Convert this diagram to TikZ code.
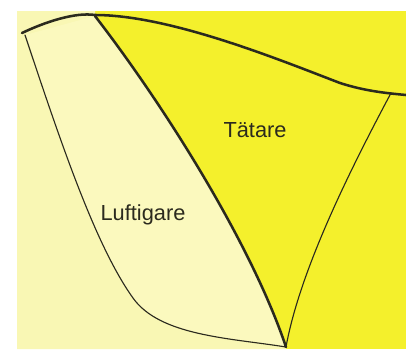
\documentclass[tikz,border=0pt]{standalone}
\usepackage{fontspec}
\setmainfont{Liberation Sans}
\definecolor{pale}{HTML}{F9F7B4}
\definecolor{paler}{HTML}{FBF9BE}
\definecolor{dense}{HTML}{F4F02C}
\definecolor{ink}{HTML}{2B2A1E}
\begin{document}
\begin{tikzpicture}[x=0.25mm, y=-0.25mm, every node/.style={font=\fontsize{15.5}{18}\selectfont, text=ink, anchor=base},
  thickline/.style={ink, line width=1.8pt, line cap=round, line join=round},
  thinline/.style={ink, line width=0.8pt, line cap=round}]
\useasboundingbox[fill=white] (0,0) rectangle (406,349);
% Zones
\fill[dense] (17,11) rectangle (406,349);
\fill[pale] (17,11) -- (95,11) -- (95,16) .. controls (160,100) and (250,240) .. (286,347) -- (286,349) -- (17,349) -- cycle;
\fill[paler] (25,35) .. controls (60,140) and (95,245) .. (133,298) .. controls (160,336) and (230,338) .. (286,347)
  .. controls (250,240) and (160,100) .. (95,16) -- cycle;
% Boundaries
\draw[thickline] (22,33) .. controls (45,22) and (75,12) .. (95,15) .. controls (170,15) and (280,60) .. (340,83)
  .. controls (365,91) and (385,93) .. (406,95);
\draw[thickline] (95,16) .. controls (160,100) and (250,240) .. (286,347);
\draw[thinline] (25,35) .. controls (60,140) and (95,245) .. (133,298) .. controls (160,336) and (230,338) .. (286,347);
\draw[thinline] (391,93) .. controls (350,170) and (300,270) .. (286,347);
% Labels
\node (taetare) at (255,137) {Tätare};
\node (luftigare) at (143,220) {Luftigare};
\end{tikzpicture}
\end{document}
